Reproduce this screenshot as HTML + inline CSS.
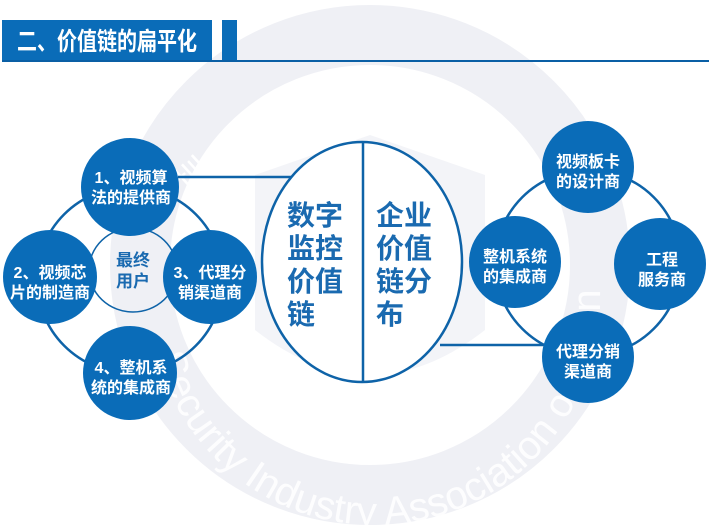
<!DOCTYPE html>
<html><head><meta charset="utf-8"><style>
html,body{margin:0;padding:0;background:#fff;}
body{width:709px;height:526px;overflow:hidden;}
</style></head><body>
<svg width="709" height="526" viewBox="0 0 709 526" xmlns="http://www.w3.org/2000/svg" font-family="Liberation Sans, Noto Sans CJK SC, sans-serif">
<defs>
<path id="arcb" d="M 150 300 A 225 225 0 0 0 600 300"/>
<path id="arct" d="M 140 300 A 235 235 0 0 1 600 300"/>
</defs>
<!-- watermark -->
<circle cx="370" cy="265" r="230" fill="none" stroke="#eff0f5" stroke-width="60"/>
<path d="M 255 175 L 370 135 L 485 175 L 485 330 Q 370 420 255 330 Z" fill="#f3f4f8"/>
<text font-size="40" fill="#ffffff" opacity="0.9"><textPath href="#arcb" startOffset="8%">Security Industry Association of Shenzhen</textPath></text>
<text font-size="34" fill="#ffffff"><textPath href="#arct" startOffset="18%" letter-spacing="28">圳市安防行业</textPath></text>

<!-- title -->
<rect x="2" y="20" width="210" height="40" fill="#0a6cb8"/>
<rect x="222" y="20" width="15" height="40" fill="#0a6cb8"/>
<rect x="2" y="60" width="707" height="2" fill="#0a5fa5"/>
<text x="17" y="50" font-size="25" font-weight="bold" fill="#fff" textLength="180" lengthAdjust="spacingAndGlyphs">二、价值链的扁平化</text>

<g stroke="#0e63a8" fill="none" stroke-width="2.5">
<circle cx="130" cy="280" r="93"/>
<ellipse cx="133" cy="270" rx="44" ry="42" stroke-width="1.5"/>
<line x1="178" y1="177" x2="295" y2="177"/>
<line x1="440" y1="345" x2="545" y2="345"/>
<ellipse cx="362" cy="262" rx="100" ry="120" fill="#fff"/>
<line x1="363" y1="142" x2="363" y2="382"/>
<circle cx="588" cy="263" r="93"/>
</g>

<g fill="#0a6cb8">
<circle cx="130" cy="187" r="49"/>
<circle cx="50" cy="277" r="47"/>
<circle cx="210" cy="277" r="47"/>
<circle cx="130" cy="373" r="47"/>
<circle cx="588" cy="167" r="46"/>
<circle cx="515" cy="262" r="46"/>
<circle cx="660" cy="264" r="46"/>
<circle cx="588" cy="357" r="46"/>
</g>

<g font-size="16" font-weight="bold" fill="#fff" text-anchor="middle">
<text x="131" y="183">1、视频算</text><text x="131" y="203">法的提供商</text>
<text x="50" y="278">2、视频芯</text><text x="50" y="298">片的制造商</text>
<text x="210" y="278">3、代理分</text><text x="210" y="298">销渠道商</text>
<text x="131" y="373">4、整机系</text><text x="131" y="393">统的集成商</text>
<text x="588" y="167">视频板卡</text><text x="588" y="187">的设计商</text>
<text x="515" y="262">整机系统</text><text x="515" y="282">的集成商</text>
<text x="662" y="265">工程</text><text x="662" y="285">服务商</text>
<text x="588" y="357">代理分销</text><text x="588" y="377">渠道商</text>
</g>
<g font-size="17" font-weight="bold" fill="#1a6ab0" text-anchor="middle">
<text x="133" y="266">最终</text><text x="133" y="287">用户</text>
</g>
<g font-size="28" font-weight="bold" fill="#1a6ab0">
<text x="287" y="225">数字</text>
<text x="287" y="258">监控</text>
<text x="287" y="291">价值</text>
<text x="287" y="324">链</text>
<text x="376" y="225">企业</text>
<text x="376" y="258">价值</text>
<text x="376" y="291">链分</text>
<text x="376" y="324">布</text>
</g>
</svg>
</body></html>
